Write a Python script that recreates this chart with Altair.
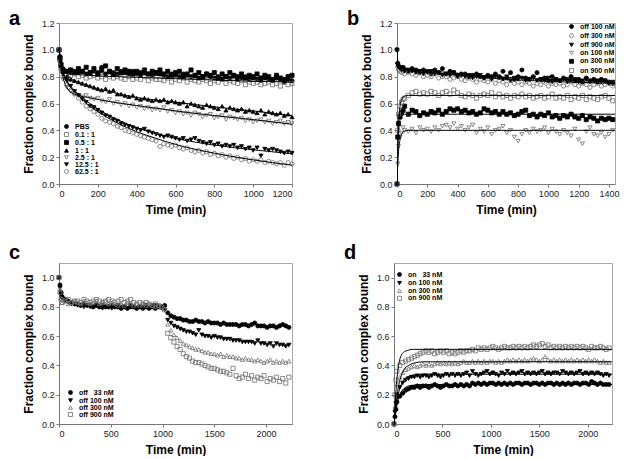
import altair as alt
import pandas as pd

FONT = "Liberation Sans"

# ---------------- Panel a ----------------
A_TIME = [0, 5, 10, 20, 40, 60, 80, 100, 120, 140, 160, 180, 200, 220, 240, 260, 280, 300,
          320, 340, 360, 380, 400, 420, 440, 460, 480, 500, 520, 540, 560, 580, 600,
          620, 640, 660, 680, 700, 720, 740, 760, 780, 800, 820, 840, 860, 880, 900,
          920, 940, 960, 980, 1000, 1020, 1040, 1060, 1080, 1100, 1120, 1140, 1160, 1180, 1200]
A_NAMES = ["PBS", "0.1 : 1", "0.5 : 1", "1 : 1", "2.5 : 1", "12.5 : 1", "62.5 : 1"]
A_PBS = [1.00, 0.95, 0.90,
         0.86, 0.84, 0.83, 0.84, 0.83,
         0.84, 0.82, 0.83, 0.85, 0.83,
         0.87, 0.82, 0.84, 0.83, 0.82,
         0.84, 0.83, 0.82, 0.84, 0.82,
         0.81, 0.83, 0.82, 0.81, 0.83,
         0.82, 0.81, 0.80, 0.82, 0.81,
         0.80, 0.82, 0.81, 0.80, 0.81,
         0.79, 0.80, 0.82, 0.80, 0.79,
         0.80, 0.78, 0.80, 0.79, 0.81,
         0.78, 0.79, 0.80, 0.78, 0.79,
         0.78, 0.77, 0.79, 0.78, 0.77,
         0.79, 0.78, 0.76, 0.78, 0.77]
A_01 = [1.00, 0.93, 0.88,
        0.84, 0.82, 0.81, 0.82, 0.80,
        0.81, 0.79, 0.80, 0.81, 0.79,
        0.80, 0.78, 0.80, 0.79, 0.80,
        0.79, 0.78, 0.80, 0.78, 0.79,
        0.78, 0.80, 0.77, 0.79, 0.78,
        0.78, 0.77, 0.79, 0.76, 0.78,
        0.77, 0.79, 0.76, 0.78, 0.77,
        0.76, 0.78, 0.77, 0.75, 0.77,
        0.76, 0.78, 0.75, 0.77, 0.76,
        0.75, 0.77, 0.74, 0.76, 0.75,
        0.76, 0.74, 0.75, 0.76, 0.74,
        0.75, 0.73, 0.76, 0.74, 0.75]
A_05 = [1.00, 0.94, 0.89,
        0.85, 0.84, 0.85, 0.83, 0.86,
        0.84, 0.87, 0.83, 0.86, 0.82,
        0.85, 0.88, 0.84, 0.82, 0.86,
        0.83, 0.85, 0.84, 0.82, 0.84,
        0.83, 0.85, 0.82, 0.84, 0.83,
        0.85, 0.82, 0.84, 0.81, 0.83,
        0.84, 0.80, 0.82, 0.85, 0.81,
        0.83, 0.80, 0.82, 0.81, 0.83,
        0.79, 0.82, 0.80, 0.83, 0.81,
        0.80, 0.82, 0.79, 0.81, 0.80,
        0.82, 0.79, 0.81, 0.80, 0.78,
        0.81, 0.79, 0.78, 0.80, 0.81]
A_1 = [1.00, 0.93, 0.88,
       0.84, 0.80, 0.78, 0.77, 0.76,
       0.75, 0.74, 0.73, 0.72, 0.71,
       0.70, 0.71, 0.69, 0.70, 0.67,
       0.67, 0.66, 0.65, 0.66, 0.64,
       0.63, 0.64, 0.63, 0.62, 0.63,
       0.62, 0.63, 0.61, 0.62, 0.61,
       0.60, 0.61, 0.58, 0.60, 0.59,
       0.58, 0.57, 0.59, 0.58, 0.57,
       0.56, 0.58, 0.55, 0.57, 0.56,
       0.55, 0.56, 0.54, 0.55, 0.54,
       0.53, 0.55, 0.52, 0.54, 0.53,
       0.52, 0.53, 0.51, 0.52, 0.50]
A_25 = [1.00, 0.90, 0.84,
        0.78, 0.72, 0.69, 0.67, 0.66,
        0.65, 0.66, 0.64, 0.63, 0.64,
        0.62, 0.61, 0.63, 0.60, 0.61,
        0.59, 0.60, 0.58, 0.59, 0.57,
        0.58, 0.56, 0.57, 0.55, 0.56,
        0.55, 0.57, 0.54, 0.55, 0.53,
        0.54, 0.52, 0.53, 0.51, 0.53,
        0.52, 0.50, 0.51, 0.52, 0.49,
        0.50, 0.51, 0.48, 0.50, 0.49,
        0.48, 0.49, 0.47, 0.48, 0.46,
        0.47, 0.48, 0.46, 0.47, 0.45,
        0.46, 0.47, 0.45, 0.46, 0.45]
A_125 = [1.00, 0.92, 0.87,
         0.82, 0.77, 0.73, 0.69, 0.66,
         0.63, 0.61, 0.58, 0.57, 0.55,
         0.53, 0.51, 0.50, 0.48, 0.47,
         0.45, 0.44, 0.43, 0.42, 0.41,
         0.40, 0.41, 0.39, 0.38, 0.37,
         0.36, 0.35, 0.36, 0.35, 0.34,
         0.33, 0.34, 0.32, 0.33, 0.34,
         0.32, 0.31, 0.30, 0.31, 0.29,
         0.30, 0.28, 0.29, 0.28, 0.29,
         0.27, 0.28, 0.26, 0.27, 0.25,
         0.27, 0.21, 0.26, 0.25, 0.26,
         0.25, 0.24, 0.23, 0.24, 0.23]
A_625 = [1.00, 0.91, 0.85,
         0.80, 0.74, 0.70, 0.67, 0.64,
         0.61, 0.58, 0.56, 0.54, 0.52,
         0.49, 0.47, 0.46, 0.45, 0.43,
         0.42, 0.40, 0.39, 0.38, 0.37,
         0.36, 0.35, 0.34, 0.33, 0.32,
         0.28, 0.30, 0.29, 0.28, 0.29,
         0.27, 0.26, 0.27, 0.25, 0.24,
         0.25, 0.23, 0.24, 0.22, 0.23,
         0.21, 0.22, 0.20, 0.21, 0.19,
         0.20, 0.18, 0.19, 0.17, 0.18,
         0.17, 0.18, 0.16, 0.17, 0.16,
         0.15, 0.16, 0.14, 0.16, 0.15]
A_FIT_TIME = [0, 10, 20, 40, 60, 100, 150, 200, 300, 400, 500, 600, 800, 1000, 1200]
A_FITS = {
    "f1": [1.0, 0.92, 0.87, 0.845, 0.84, 0.835, 0.83, 0.83, 0.82, 0.815, 0.81, 0.805, 0.795, 0.785, 0.78],
    "f2": [1.0, 0.91, 0.86, 0.83, 0.82, 0.815, 0.81, 0.805, 0.80, 0.795, 0.79, 0.785, 0.775, 0.765, 0.76],
    "f3": [1.0, 0.92, 0.87, 0.82, 0.79, 0.76, 0.735, 0.71, 0.675, 0.645, 0.625, 0.61, 0.575, 0.545, 0.51],
    "f4": [1.0, 0.88, 0.80, 0.72, 0.685, 0.66, 0.645, 0.63, 0.605, 0.585, 0.565, 0.545, 0.51, 0.48, 0.445],
    "f5": [1.0, 0.90, 0.84, 0.77, 0.73, 0.67, 0.61, 0.56, 0.48, 0.42, 0.375, 0.34, 0.29, 0.255, 0.225],
    "f6": [1.0, 0.90, 0.83, 0.76, 0.72, 0.66, 0.59, 0.54, 0.455, 0.39, 0.34, 0.295, 0.23, 0.18, 0.14],
}

# ---------------- Panel b ----------------
B_TIME = [0, 5, 10, 20, 30, 40, 50, 75, 100, 125, 150, 175, 200, 225, 250, 275, 300,
          325, 350, 375, 400, 425, 450, 475, 500, 525, 550, 575, 600, 625, 650, 675,
          700, 725, 750, 775, 800, 825, 850, 875, 900, 925, 950, 975, 1000, 1025, 1050,
          1075, 1100, 1125, 1150, 1175, 1200, 1225, 1250, 1275, 1300, 1325, 1350, 1375, 1400, 1425]
B_NAMES = ["off 100 nM", "off 300 nM", "off 900 nM", "on 100 nM", "on 300 nM", "on 900 nM"]
B_OFF100 = [1.00, 0.90, 0.88, 0.87, 0.86, 0.87, 0.85,
            0.84, 0.86, 0.85, 0.83, 0.85,
            0.84, 0.82, 0.85, 0.83, 0.86,
            0.82, 0.84, 0.83, 0.81, 0.82,
            0.82, 0.80, 0.81, 0.82, 0.80,
            0.79, 0.81, 0.80, 0.82, 0.80,
            0.84, 0.79, 0.83, 0.78, 0.80,
            0.85, 0.79, 0.78, 0.80, 0.83,
            0.78, 0.79, 0.77, 0.80, 0.78,
            0.77, 0.79, 0.78, 0.80, 0.77,
            0.78, 0.76, 0.79, 0.77, 0.78,
            0.76, 0.78, 0.77, 0.76, 0.75]
B_OFF300 = [1.00, 0.87, 0.85, 0.84, 0.83, 0.84, 0.82,
            0.83, 0.82, 0.81, 0.83, 0.80,
            0.81, 0.80, 0.82, 0.79, 0.80,
            0.80, 0.78, 0.79, 0.80, 0.78,
            0.77, 0.79, 0.78, 0.76, 0.78,
            0.77, 0.76, 0.78, 0.75, 0.77,
            0.76, 0.74, 0.77, 0.75, 0.76,
            0.74, 0.76, 0.75, 0.73, 0.75,
            0.74, 0.76, 0.73, 0.75, 0.74,
            0.75, 0.73, 0.74, 0.76, 0.74,
            0.73, 0.75, 0.74, 0.72, 0.74,
            0.75, 0.73, 0.74, 0.75, 0.73]
B_OFF900 = [1.00, 0.89, 0.87, 0.86, 0.85, 0.86, 0.84,
            0.85, 0.84, 0.83, 0.84, 0.82,
            0.83, 0.84, 0.82, 0.83, 0.81,
            0.82, 0.81, 0.83, 0.80, 0.81,
            0.80, 0.81, 0.79, 0.80, 0.81,
            0.79, 0.80, 0.78, 0.80, 0.79,
            0.78, 0.80, 0.77, 0.79, 0.78,
            0.79, 0.77, 0.78, 0.79, 0.77,
            0.78, 0.77, 0.79, 0.76, 0.78,
            0.77, 0.78, 0.76, 0.77, 0.78,
            0.76, 0.77, 0.78, 0.76, 0.77,
            0.77, 0.76, 0.77, 0.75, 0.76]
B_ON100 = [0.00, 0.15, 0.28, 0.35, 0.38, 0.42, 0.40,
           0.39, 0.41, 0.38, 0.42, 0.40,
           0.41, 0.39, 0.42, 0.40, 0.43,
           0.44, 0.42, 0.45, 0.41, 0.43,
           0.40, 0.42, 0.44, 0.38, 0.41,
           0.39, 0.42, 0.37, 0.40, 0.41,
           0.43, 0.38, 0.40, 0.35, 0.32,
           0.37, 0.40, 0.38, 0.41, 0.39,
           0.40, 0.42, 0.38, 0.41, 0.39,
           0.37, 0.40, 0.38, 0.36, 0.41,
           0.33, 0.30, 0.39, 0.42, 0.37,
           0.36, 0.38, 0.35, 0.37, 0.40]
B_ON300 = [0.00, 0.35, 0.45, 0.50, 0.53, 0.55, 0.58,
           0.52, 0.55, 0.54, 0.51, 0.53,
           0.52, 0.54, 0.53, 0.55, 0.52,
           0.54, 0.56, 0.55, 0.56, 0.54,
           0.55, 0.53, 0.54, 0.52, 0.53,
           0.56, 0.55, 0.53, 0.54, 0.52,
           0.54, 0.52, 0.53, 0.51, 0.52,
           0.54, 0.55, 0.51, 0.52, 0.50,
           0.52, 0.51, 0.53, 0.50, 0.51,
           0.49, 0.51, 0.50, 0.52, 0.50,
           0.49, 0.51, 0.48, 0.50, 0.49,
           0.47, 0.49, 0.48, 0.49, 0.48]
B_ON900 = [0.00, 0.40, 0.52, 0.58, 0.61, 0.63, 0.64,
           0.66, 0.68, 0.69, 0.67, 0.68,
           0.67, 0.69, 0.68, 0.66, 0.68,
           0.69, 0.67, 0.70, 0.68, 0.66,
           0.65, 0.67, 0.66, 0.64, 0.66,
           0.67, 0.66, 0.68, 0.65, 0.67,
           0.65, 0.66, 0.64, 0.66, 0.65,
           0.67, 0.65, 0.66, 0.64, 0.65,
           0.66, 0.64, 0.65, 0.67, 0.64,
           0.65, 0.64, 0.66, 0.63, 0.65,
           0.64, 0.66, 0.63, 0.65, 0.64,
           0.63, 0.65, 0.66, 0.64, 0.62]
B_FIT_TIME = [0, 5, 10, 20, 30, 50, 75, 100, 150, 200, 400, 600, 800, 1000, 1200, 1440]
B_FITS = {
    "f1": [1.0, 0.92, 0.89, 0.875, 0.87, 0.865, 0.86, 0.855, 0.85, 0.845, 0.825, 0.805, 0.79, 0.78, 0.77, 0.76],
    "f2": [1.0, 0.90, 0.87, 0.86, 0.855, 0.85, 0.845, 0.84, 0.835, 0.83, 0.81, 0.79, 0.775, 0.765, 0.757, 0.75],
    "f3": [0.0, 0.28, 0.45, 0.58, 0.63, 0.655, 0.66, 0.66, 0.66, 0.66, 0.66, 0.66, 0.66, 0.66, 0.66, 0.66],
    "f4": [0.0, 0.24, 0.38, 0.48, 0.51, 0.52, 0.52, 0.52, 0.52, 0.52, 0.52, 0.52, 0.52, 0.52, 0.52, 0.52],
    "f5": [0.0, 0.14, 0.24, 0.33, 0.37, 0.395, 0.40, 0.40, 0.40, 0.40, 0.40, 0.40, 0.40, 0.40, 0.40, 0.40],
}

# ---------------- Panels c and d ----------------
CD_TIME = [0, 10, 20, 30, 60, 90, 120, 150, 180, 210, 240, 270, 300, 330, 360, 390, 420, 450,
           480, 510, 540, 570, 600, 630, 660, 690, 720, 750, 780, 810, 840, 870, 900,
           930, 960, 990, 1020, 1050, 1080, 1110, 1140, 1170, 1200, 1230, 1260, 1290, 1320, 1350,
           1380, 1410, 1440, 1470, 1500, 1530, 1560, 1590, 1620, 1650, 1680, 1710, 1740, 1770, 1800,
           1830, 1860, 1890, 1920, 1950, 1980, 2010, 2040, 2070, 2100, 2130, 2160, 2190, 2220]
C_NAMES = ["off \u200733 nM", "off 100 nM", "off 300 nM", "off 900 nM"]
C_OFF33 = [1.00, 0.95, 0.90,
           0.87, 0.85, 0.84, 0.83, 0.82,
           0.82, 0.81, 0.82, 0.81, 0.81,
           0.80, 0.81, 0.80, 0.81, 0.80,
           0.80, 0.81, 0.80, 0.80, 0.79,
           0.80, 0.79, 0.80, 0.80, 0.79,
           0.80, 0.79, 0.80, 0.79, 0.80,
           0.79, 0.80, 0.80, 0.81, 0.76,
           0.74, 0.73, 0.72, 0.72, 0.71,
           0.71, 0.70, 0.70, 0.71, 0.70,
           0.70, 0.69, 0.70, 0.69, 0.69,
           0.69, 0.68, 0.69, 0.68, 0.68,
           0.68, 0.68, 0.67, 0.68, 0.68,
           0.67, 0.68, 0.69, 0.67, 0.67,
           0.67, 0.66, 0.67, 0.67, 0.66,
           0.67, 0.68, 0.67, 0.66]
C_OFF100 = [1.00, 0.93, 0.88,
            0.86, 0.84, 0.83, 0.82, 0.82,
            0.81, 0.81, 0.80, 0.81, 0.80,
            0.80, 0.81, 0.80, 0.79, 0.80,
            0.80, 0.79, 0.80, 0.81, 0.80,
            0.80, 0.79, 0.81, 0.80, 0.79,
            0.80, 0.80, 0.81, 0.80, 0.81,
            0.81, 0.80, 0.79, 0.78, 0.71,
            0.69, 0.67, 0.66, 0.65, 0.64,
            0.63, 0.63, 0.62, 0.61, 0.64,
            0.61, 0.60, 0.60, 0.59, 0.60,
            0.59, 0.59, 0.58, 0.58, 0.58,
            0.57, 0.57, 0.57, 0.56, 0.56,
            0.56, 0.56, 0.55, 0.57, 0.55,
            0.55, 0.54, 0.55, 0.53, 0.55,
            0.54, 0.54, 0.53, 0.54]
C_OFF300 = [1.00, 0.92, 0.86,
            0.83, 0.84, 0.82, 0.83, 0.84,
            0.83, 0.82, 0.84, 0.83, 0.82,
            0.83, 0.84, 0.82, 0.83, 0.84,
            0.82, 0.83, 0.82, 0.81, 0.82,
            0.81, 0.83, 0.82, 0.81, 0.82,
            0.81, 0.82, 0.81, 0.82, 0.81,
            0.80, 0.81, 0.80, 0.79, 0.68,
            0.64, 0.61, 0.59, 0.57, 0.55,
            0.54, 0.53, 0.52, 0.51, 0.51,
            0.50, 0.49, 0.49, 0.48, 0.48,
            0.47, 0.48, 0.46, 0.47, 0.46,
            0.46, 0.45, 0.45, 0.44, 0.45,
            0.44, 0.44, 0.43, 0.44, 0.43,
            0.42, 0.43, 0.44, 0.42, 0.43,
            0.42, 0.43, 0.42, 0.43]
C_OFF900 = [1.00, 0.90, 0.85,
            0.83, 0.84, 0.85, 0.83, 0.84,
            0.84, 0.83, 0.85, 0.84, 0.83,
            0.84, 0.85, 0.84, 0.83, 0.84,
            0.85, 0.84, 0.83, 0.84, 0.85,
            0.83, 0.84, 0.85, 0.83, 0.82,
            0.83, 0.82, 0.83, 0.82, 0.81,
            0.82, 0.81, 0.80, 0.78, 0.62,
            0.59, 0.56, 0.53, 0.51, 0.48,
            0.46, 0.45, 0.43, 0.42, 0.42,
            0.41, 0.40, 0.39, 0.38, 0.38,
            0.37, 0.36, 0.36, 0.35, 0.34,
            0.38, 0.33, 0.31, 0.32, 0.34,
            0.31, 0.33, 0.30, 0.32, 0.31,
            0.33, 0.29, 0.31, 0.30, 0.32,
            0.29, 0.31, 0.28, 0.32]

D_NAMES = ["on \u200733 nM", "on 100 nM", "on 300 nM", "on 900 nM"]
D_ON33 = [0.00, 0.05, 0.10,
          0.15, 0.19, 0.21, 0.23, 0.24,
          0.25, 0.25, 0.26, 0.25, 0.26,
          0.26, 0.25, 0.26, 0.27, 0.26,
          0.25, 0.26, 0.27, 0.26, 0.26,
          0.27, 0.26, 0.27, 0.26, 0.27,
          0.26, 0.28, 0.27, 0.28, 0.27,
          0.28, 0.27, 0.28, 0.28, 0.27,
          0.28, 0.27, 0.28, 0.27, 0.28,
          0.27, 0.28, 0.28, 0.27, 0.28,
          0.28, 0.27, 0.28, 0.28, 0.27,
          0.28, 0.27, 0.28, 0.28, 0.27,
          0.28, 0.27, 0.28, 0.27, 0.28,
          0.27, 0.28, 0.28, 0.27, 0.28,
          0.28, 0.27, 0.29, 0.28, 0.27,
          0.28, 0.27, 0.27, 0.27]
D_ON100 = [0.00, 0.08, 0.14,
           0.20, 0.25, 0.28, 0.30, 0.31,
           0.32, 0.32, 0.33, 0.32, 0.33,
           0.33, 0.32, 0.33, 0.34, 0.33,
           0.32, 0.33, 0.34, 0.33, 0.34,
           0.33, 0.34, 0.33, 0.34, 0.35,
           0.33, 0.36, 0.34, 0.33, 0.34,
           0.35, 0.36, 0.34, 0.35, 0.34,
           0.33, 0.35, 0.34, 0.36, 0.34,
           0.35, 0.34, 0.35, 0.36, 0.34,
           0.35, 0.34, 0.35, 0.34, 0.35,
           0.36, 0.34, 0.35, 0.34, 0.35,
           0.35, 0.34, 0.36, 0.35, 0.34,
           0.35, 0.34, 0.35, 0.36, 0.34,
           0.35, 0.34, 0.35, 0.34, 0.35,
           0.34, 0.33, 0.34, 0.33]
D_ON300 = [0.00, 0.12, 0.20,
           0.27, 0.32, 0.35, 0.37, 0.38,
           0.39, 0.40, 0.39, 0.40, 0.41,
           0.40, 0.41, 0.40, 0.41, 0.42,
           0.41, 0.42, 0.41, 0.42, 0.41,
           0.42, 0.41, 0.42, 0.43, 0.42,
           0.42, 0.43, 0.42, 0.43, 0.42,
           0.43, 0.42, 0.43, 0.43, 0.42,
           0.43, 0.42, 0.43, 0.44, 0.43,
           0.44, 0.43, 0.44, 0.43, 0.44,
           0.43, 0.44, 0.45, 0.44, 0.43,
           0.44, 0.46, 0.44, 0.43, 0.44,
           0.43, 0.44, 0.43, 0.44, 0.43,
           0.44, 0.43, 0.44, 0.43, 0.44,
           0.43, 0.44, 0.43, 0.44, 0.43,
           0.42, 0.43, 0.42, 0.42]
D_ON900 = [0.00, 0.20, 0.30,
           0.36, 0.40, 0.42, 0.43, 0.44,
           0.45, 0.46, 0.47, 0.48, 0.49,
           0.50, 0.49, 0.50, 0.48, 0.49,
           0.50, 0.49, 0.50, 0.48, 0.49,
           0.48, 0.49, 0.50, 0.49, 0.50,
           0.50, 0.51, 0.50, 0.52, 0.51,
           0.52, 0.51, 0.52, 0.53, 0.52,
           0.51, 0.52, 0.53, 0.52, 0.52,
           0.53, 0.52, 0.53, 0.52, 0.53,
           0.52, 0.53, 0.54, 0.53, 0.54,
           0.55, 0.53, 0.54, 0.52, 0.53,
           0.52, 0.53, 0.52, 0.53, 0.52,
           0.53, 0.52, 0.53, 0.52, 0.53,
           0.52, 0.51, 0.53, 0.52, 0.52,
           0.53, 0.52, 0.51, 0.52]
D_FIT_TIME = [0, 10, 25, 50, 75, 100, 150, 200, 300, 500, 1000, 2250]
D_FITS = {
    "f1": [0.0, 0.12, 0.27, 0.41, 0.47, 0.49, 0.505, 0.51, 0.51, 0.51, 0.51, 0.51],
    "f2": [0.0, 0.07, 0.16, 0.27, 0.33, 0.37, 0.40, 0.415, 0.425, 0.425, 0.425, 0.425],
    "f3": [0.0, 0.06, 0.14, 0.22, 0.27, 0.30, 0.325, 0.335, 0.34, 0.34, 0.34, 0.34],
    "f4": [0.0, 0.05, 0.11, 0.18, 0.22, 0.24, 0.26, 0.265, 0.27, 0.27, 0.27, 0.27],
}

# marker styles
BLACK = "#000000"
GREY = "#6e6e6e"
NONE = "transparent"


def points_df(times, series, field):
    rows = []
    for name, vals in series:
        for t, v in zip(times, vals, strict=True):
            rows.append({"t": t, "v": v, field: name})
    return pd.DataFrame(rows)


def fits_df(times, fits):
    rows = []
    for name, vals in fits.items():
        for t, v in zip(times, vals, strict=True):
            rows.append({"t": t, "v": v, "f": name})
    return pd.DataFrame(rows)


def panel(letter, field, pts, fits, names, shapes, fills, strokes, xdom, xvals, ydom, yvals,
          w, h, lx, ly, rowpad, toff):
    xs = alt.Scale(domain=xdom, nice=False, zero=False)
    ys = alt.Scale(domain=ydom, nice=False)
    xax = alt.Axis(values=xvals, format="d", title="Time (min)", labelOverlap=False)
    yax = alt.Axis(values=yvals, format=".1f", title="Fraction complex bound", labelOverlap=False)
    leg = alt.Legend(title=None, orient="none", legendX=lx, legendY=ly, rowPadding=rowpad,
                     labelColor="#000000", symbolOpacity=1)
    p = alt.Chart(pts).mark_point(size=17, opacity=1, fillOpacity=1, strokeWidth=0.8).encode(
        x=alt.X("t:Q", scale=xs, axis=xax),
        y=alt.Y("v:Q", scale=ys, axis=yax),
        shape=alt.Shape(f"{field}:N", scale=alt.Scale(domain=names, range=shapes), legend=leg),
        fill=alt.Fill(f"{field}:N", scale=alt.Scale(domain=names, range=fills), legend=leg),
        stroke=alt.Stroke(f"{field}:N", scale=alt.Scale(domain=names, range=strokes), legend=leg),
    )
    layers = [p]
    if fits is not None:
        ln = alt.Chart(fits).mark_line(color="black", strokeWidth=1, interpolate="monotone",
                                       clip=True).encode(
            x=alt.X("t:Q", scale=xs, axis=xax),
            y=alt.Y("v:Q", scale=ys, axis=yax),
            detail="f:N",
        )
        layers.append(ln)
    return alt.layer(*layers).properties(
        width=w, height=h,
        title=alt.TitleParams(letter, anchor="start", frame="group", dx=-50, offset=toff),
    )


a_pts = points_df(A_TIME, list(zip(A_NAMES, [A_PBS, A_01, A_05, A_1, A_25, A_125, A_625])), "sa")
b_pts = points_df(B_TIME, list(zip(B_NAMES, [B_OFF100, B_OFF300, B_OFF900, B_ON100, B_ON300, B_ON900])), "sb")
c_pts = points_df(CD_TIME, list(zip(C_NAMES, [C_OFF33, C_OFF100, C_OFF300, C_OFF900])), "sc")
d_pts = points_df(CD_TIME, list(zip(D_NAMES, [D_ON33, D_ON100, D_ON300, D_ON900])), "sd")

Y12 = [0, 0.2, 0.4, 0.6, 0.8, 1.0, 1.2]
Y10 = [0, 0.2, 0.4, 0.6, 0.8, 1.0]
H = 161

pa = panel("a", "sa", a_pts, fits_df(A_FIT_TIME, A_FITS), A_NAMES,
           ["circle", "square", "square", "triangle-up", "triangle-down", "triangle-down", "circle"],
           [BLACK, NONE, BLACK, BLACK, NONE, BLACK, NONE],
           [BLACK, GREY, BLACK, BLACK, GREY, BLACK, GREY],
           [0, 1200], [0, 200, 400, 600, 800, 1000, 1200], [0, 1.2], Y12,
           233, H, 4, 100, -1.2, -10)
pb = panel("b", "sb", b_pts, fits_df(B_FIT_TIME, B_FITS), B_NAMES,
           ["circle", "circle", "triangle-down", "triangle-down", "square", "square"],
           [BLACK, NONE, BLACK, NONE, BLACK, NONE],
           [BLACK, GREY, BLACK, GREY, BLACK, GREY],
           [0, 1440], [0, 200, 400, 600, 800, 1000, 1200, 1400], [0, 1.2], Y12,
           218, H, 171, 0, 0.2, -10)
pc = panel("c", "sc", c_pts, None, C_NAMES,
           ["circle", "triangle-down", "triangle-up", "square"],
           [BLACK, BLACK, NONE, NONE],
           [BLACK, BLACK, GREY, GREY],
           [0, 2250], [0, 500, 1000, 1500, 2000], [0, 1.1], Y10,
           233, H, 8, 126, -1.2, 0)
pd_ = panel("d", "sd", d_pts, fits_df(D_FIT_TIME, D_FITS), D_NAMES,
            ["circle", "triangle-down", "triangle-up", "square"],
            [BLACK, BLACK, NONE, NONE],
            [BLACK, BLACK, GREY, GREY],
            [0, 2250], [0, 500, 1000, 1500, 2000], [0, 1.1], Y10,
            218, H, 2, 8, -0.4, 0)

IND = dict(shape="independent", fill="independent", stroke="independent")

row1 = alt.hconcat(pa, pb, spacing=49).resolve_scale(**IND).resolve_legend(**IND)
row2 = alt.hconcat(pc, pd_, spacing=49).resolve_scale(**IND).resolve_legend(**IND)

chart = alt.vconcat(row1, row2, spacing=26).resolve_scale(**IND).resolve_legend(**IND).properties(
    padding=0
).configure(font=FONT).configure_axis(
    labelFont=FONT, labelFontSize=9, labelColor="#222222",
    titleFont=FONT, titleFontSize=12, titleFontWeight="bold", titleColor="#000000",
    domainColor="#777777", tickColor="#777777", tickSize=3, grid=False,
    labelPadding=2, titlePadding=6,
).configure_view(stroke="#aaaaaa", strokeWidth=1).configure_legend(
    labelFont=FONT, labelFontSize=7, labelFontWeight="bold", symbolSize=16,
    labelOffset=5, padding=0, symbolStrokeWidth=0.8, labelColor="#000000",
).configure_title(font=FONT, fontSize=20, fontWeight="bold", color="#000000", anchor="start")

chart.save("out.html", embed_options={"renderer": "svg", "actions": False})
